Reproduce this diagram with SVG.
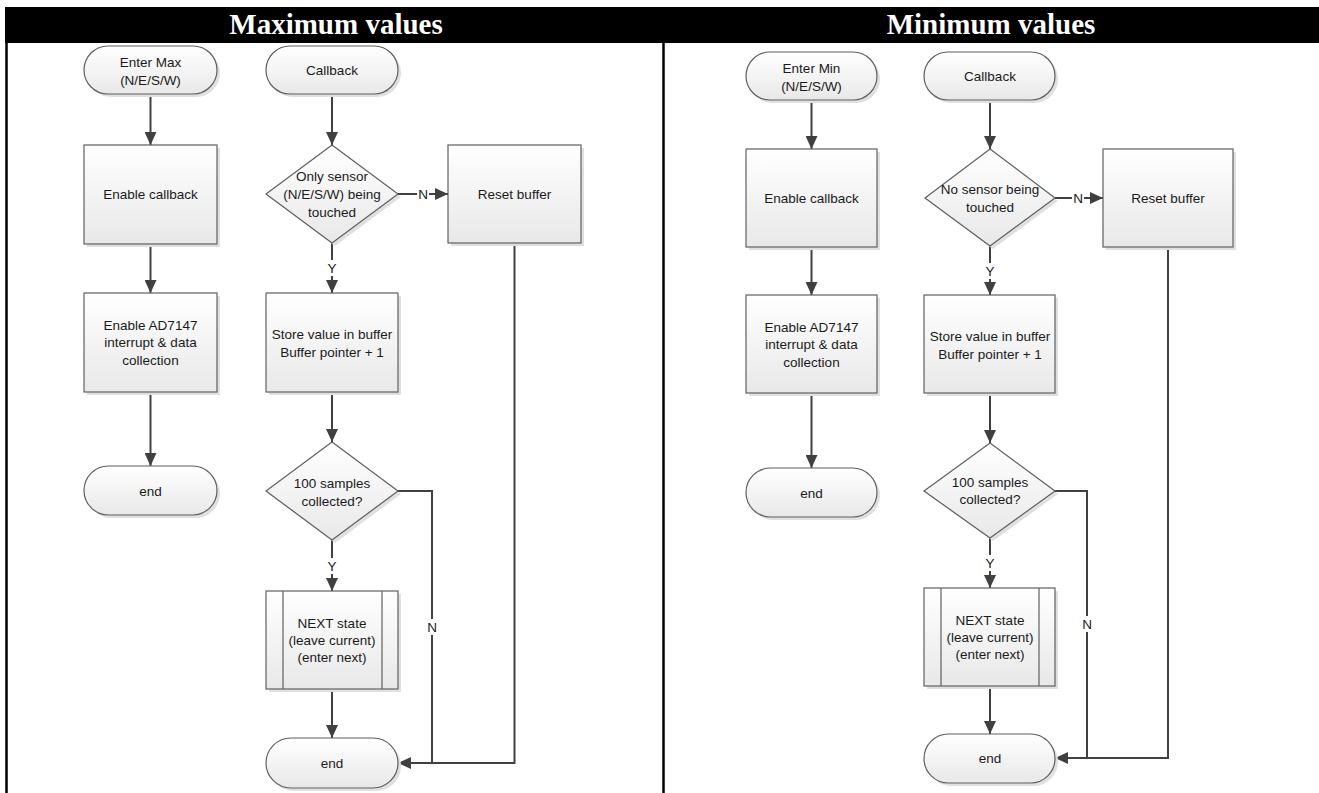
<svg xmlns="http://www.w3.org/2000/svg" width="1319" height="793" viewBox="0 0 1319 793">
<defs>
<linearGradient id="g" x1="0" y1="0" x2="0" y2="1">
<stop offset="0" stop-color="#ffffff"/>
<stop offset="1" stop-color="#e8e8e8"/>
</linearGradient>
<marker id="ah" markerUnits="userSpaceOnUse" markerWidth="13" markerHeight="12" refX="13" refY="6" orient="auto">
<path d="M0,0 L13,6 L0,12 z" fill="#404040"/>
</marker>
</defs>
<style>
.n{fill:url(#g);stroke:#5f5f5f;stroke-width:1.2}
.sh{fill:#e0e0e0;stroke:none}
.t{font-family:"Liberation Sans",Arial,sans-serif;font-size:13.5px;fill:#1a1a1a;text-anchor:middle;dominant-baseline:central}
.h{font-family:"Liberation Serif","Times New Roman",serif;font-size:29px;font-weight:bold;fill:#ffffff;text-anchor:middle}
.c{fill:none;stroke:#404040;stroke-width:2}
.a{marker-end:url(#ah)}
.lb{fill:#ffffff}
.ln{stroke:#5f5f5f;stroke-width:1.2}
</style>
<rect x="0" y="0" width="1319" height="793" fill="#ffffff"/>
<g id="frame">
<rect x="5" y="7" width="1314" height="36" fill="#000000"/>
<line x1="6.5" y1="43" x2="6.5" y2="793" stroke="#000" stroke-width="2.5"/>
<line x1="663.5" y1="43" x2="663.5" y2="793" stroke="#000" stroke-width="2.5"/>
<text class="h" x="336" y="34">Maximum values</text>
<text class="h" x="991" y="34">Minimum values</text>
</g>

<g id="connectors">
<line class="c a" x1="150.5" y1="94" x2="150.5" y2="145"/>
<line class="c a" x1="150.5" y1="244" x2="150.5" y2="293"/>
<line class="c a" x1="150.5" y1="392" x2="150.5" y2="466"/>
<line class="c a" x1="332" y1="94" x2="332" y2="145"/>
<line class="c a" x1="398" y1="194" x2="448" y2="194"/>
<line class="c a" x1="332" y1="243" x2="332" y2="293"/>
<line class="c a" x1="332" y1="392" x2="332" y2="442"/>
<line class="c a" x1="332" y1="540" x2="332" y2="591"/>
<line class="c a" x1="332" y1="689" x2="332" y2="738"/>
<polyline class="c" points="398,491 432,491 432,763"/>
<polyline class="c a" points="514.5,243 514.5,763 398,763"/>
<line class="c a" x1="811.5" y1="100" x2="811.5" y2="149"/>
<line class="c a" x1="811.5" y1="247" x2="811.5" y2="295"/>
<line class="c a" x1="811.5" y1="393" x2="811.5" y2="468"/>
<line class="c a" x1="990" y1="100" x2="990" y2="149"/>
<line class="c a" x1="1055" y1="198" x2="1103" y2="198"/>
<line class="c a" x1="990" y1="246" x2="990" y2="295"/>
<line class="c a" x1="990" y1="393" x2="990" y2="443"/>
<line class="c a" x1="990" y1="538" x2="990" y2="588"/>
<line class="c a" x1="990" y1="686" x2="990" y2="734"/>
<polyline class="c" points="1055,491 1087,491 1087,758"/>
<polyline class="c a" points="1168,247 1168,758 1055,758"/>
<rect class="lb" x="417" y="186" width="12" height="16"/>
<text class="t" x="423" y="194">N</text>
<rect class="lb" x="326" y="260" width="12" height="16"/>
<text class="t" x="332" y="268">Y</text>
<rect class="lb" x="326" y="558" width="12" height="16"/>
<text class="t" x="332" y="566">Y</text>
<rect class="lb" x="426" y="619" width="12" height="16"/>
<text class="t" x="432" y="627">N</text>
<rect class="lb" x="1072" y="190" width="12" height="16"/>
<text class="t" x="1078" y="198">N</text>
<rect class="lb" x="984" y="263" width="12" height="16"/>
<text class="t" x="990" y="271">Y</text>
<rect class="lb" x="984" y="555" width="12" height="16"/>
<text class="t" x="990" y="563">Y</text>
<rect class="lb" x="1081" y="616" width="12" height="16"/>
<text class="t" x="1087" y="624">N</text>
</g>

<g id="enterMax">
<rect class="sh" x="87" y="49" width="133" height="48" rx="24"/>
<rect class="n" x="84" y="46" width="133" height="48" rx="24"/>
<text class="t" x="150.5" y="62">Enter Max</text>
<text class="t" x="150.5" y="80">(N/E/S/W)</text>
</g>
<g id="callbackMax">
<rect class="sh" x="269" y="49" width="132" height="48" rx="24"/>
<rect class="n" x="266" y="46" width="132" height="48" rx="24"/>
<text class="t" x="332" y="70">Callback</text>
</g>
<g id="enableCallbackMax">
<rect class="sh" x="87" y="148" width="133" height="99"/>
<rect class="n" x="84" y="145" width="133" height="99"/>
<text class="t" x="150.5" y="194">Enable callback</text>
</g>
<g id="enableADMax">
<rect class="sh" x="87" y="296" width="133" height="99"/>
<rect class="n" x="84" y="293" width="133" height="99"/>
<text class="t" x="150.5" y="325">Enable AD7147</text>
<text class="t" x="150.5" y="342">interrupt &amp; data</text>
<text class="t" x="150.5" y="360">collection</text>
</g>
<g id="endMaxA">
<rect class="sh" x="87" y="469" width="133" height="49" rx="24.5"/>
<rect class="n" x="84" y="466" width="133" height="49" rx="24.5"/>
<text class="t" x="150.5" y="491">end</text>
</g>
<g id="decisionSensorMax">
<polygon class="sh" points="335,148 401,197 335,246 269,197"/>
<polygon class="n" points="332,145 398,194 332,243 266,194"/>
<text class="t" x="332" y="176">Only sensor</text>
<text class="t" x="332" y="194">(N/E/S/W) being</text>
<text class="t" x="332" y="212">touched</text>
</g>
<g id="resetMax">
<rect class="sh" x="451" y="148" width="133" height="98"/>
<rect class="n" x="448" y="145" width="133" height="98"/>
<text class="t" x="514.5" y="194">Reset buffer</text>
</g>
<g id="storeMax">
<rect class="sh" x="269" y="296" width="132" height="99"/>
<rect class="n" x="266" y="293" width="132" height="99"/>
<text class="t" x="332" y="334">Store value in buffer</text>
<text class="t" x="332" y="352">Buffer pointer + 1</text>
</g>
<g id="decisionSamplesMax">
<polygon class="sh" points="335,445 401,494 335,543 269,494"/>
<polygon class="n" points="332,442 398,491 332,540 266,491"/>
<text class="t" x="332" y="483">100 samples</text>
<text class="t" x="332" y="501">collected?</text>
</g>
<g id="nextMax">
<rect class="sh" x="269" y="594" width="132" height="98"/>
<rect class="n" x="266" y="591" width="132" height="98"/>
<line class="ln" x1="283" y1="591" x2="283" y2="689"/>
<line class="ln" x1="382" y1="591" x2="382" y2="689"/>
<text class="t" x="332" y="623">NEXT state</text>
<text class="t" x="332" y="640">(leave current)</text>
<text class="t" x="332" y="657">(enter next)</text>
</g>
<g id="endMaxB">
<rect class="sh" x="269" y="741" width="132" height="50" rx="25"/>
<rect class="n" x="266" y="738" width="132" height="50" rx="25"/>
<text class="t" x="332" y="763">end</text>
</g>

<g id="enterMin">
<rect class="sh" x="749" y="55" width="131" height="48" rx="24"/>
<rect class="n" x="746" y="52" width="131" height="48" rx="24"/>
<text class="t" x="811.5" y="68">Enter Min</text>
<text class="t" x="811.5" y="86">(N/E/S/W)</text>
</g>
<g id="callbackMin">
<rect class="sh" x="927" y="55" width="131" height="48" rx="24"/>
<rect class="n" x="924" y="52" width="131" height="48" rx="24"/>
<text class="t" x="990" y="76">Callback</text>
</g>
<g id="enableCallbackMin">
<rect class="sh" x="749" y="152" width="131" height="98"/>
<rect class="n" x="746" y="149" width="131" height="98"/>
<text class="t" x="811.5" y="198">Enable callback</text>
</g>
<g id="enableADMin">
<rect class="sh" x="749" y="298" width="131" height="98"/>
<rect class="n" x="746" y="295" width="131" height="98"/>
<text class="t" x="811.5" y="327">Enable AD7147</text>
<text class="t" x="811.5" y="344">interrupt &amp; data</text>
<text class="t" x="811.5" y="362">collection</text>
</g>
<g id="endMinA">
<rect class="sh" x="749" y="471" width="131" height="49" rx="24.5"/>
<rect class="n" x="746" y="468" width="131" height="49" rx="24.5"/>
<text class="t" x="811.5" y="493">end</text>
</g>
<g id="decisionSensorMin">
<polygon class="sh" points="993,152 1058,201 993,249 928,201"/>
<polygon class="n" points="990,149 1055,198 990,246 925,198"/>
<text class="t" x="990" y="189">No sensor being</text>
<text class="t" x="990" y="207">touched</text>
</g>
<g id="resetMin">
<rect class="sh" x="1106" y="152" width="130" height="98"/>
<rect class="n" x="1103" y="149" width="130" height="98"/>
<text class="t" x="1168" y="198">Reset buffer</text>
</g>
<g id="storeMin">
<rect class="sh" x="927" y="298" width="131" height="98"/>
<rect class="n" x="924" y="295" width="131" height="98"/>
<text class="t" x="990" y="336">Store value in buffer</text>
<text class="t" x="990" y="354">Buffer pointer + 1</text>
</g>
<g id="decisionSamplesMin">
<polygon class="sh" points="993,446 1058,494 993,541 927,494"/>
<polygon class="n" points="990,443 1055,491 990,538 924,491"/>
<text class="t" x="990" y="482">100 samples</text>
<text class="t" x="990" y="499">collected?</text>
</g>
<g id="nextMin">
<rect class="sh" x="927" y="591" width="131" height="98"/>
<rect class="n" x="924" y="588" width="131" height="98"/>
<line class="ln" x1="941" y1="588" x2="941" y2="686"/>
<line class="ln" x1="1039" y1="588" x2="1039" y2="686"/>
<text class="t" x="990" y="620">NEXT state</text>
<text class="t" x="990" y="637">(leave current)</text>
<text class="t" x="990" y="654">(enter next)</text>
</g>
<g id="endMinB">
<rect class="sh" x="927" y="737" width="131" height="49" rx="24.5"/>
<rect class="n" x="924" y="734" width="131" height="49" rx="24.5"/>
<text class="t" x="990" y="758">end</text>
</g>
</svg>
